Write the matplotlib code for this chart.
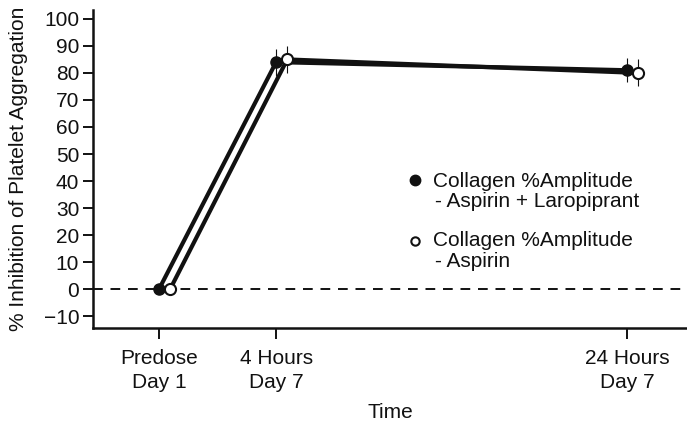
import matplotlib
matplotlib.use("Agg")
import matplotlib.pyplot as plt

plt.rcParams["font.family"] = ["Liberation Sans", "DejaVu Sans"]

TIME_POS = [0, 1, 4]
TIME_LABELS = ["Predose\nDay 1", "4 Hours\nDay 7", "24 Hours\nDay 7"]
COMBO_VALUES = [0, 84, 81]
COMBO_ERR = [0, 5, 4.5]
ASPIRIN_VALUES = [0, 85, 80]
ASPIRIN_ERR = [0, 5, 5]
OFFSET = 0.095
LEGEND_LINES = [("Collagen %Amplitude", "- Aspirin + Laropiprant"),
                ("Collagen %Amplitude", "- Aspirin")]

INK = "#111111"
FS = 15

fig = plt.figure(figsize=(6.87, 4.34), dpi=100)
ax = fig.add_axes([0.1354, 0.2442, 0.8646, 0.7328])

ax.axhline(0, color=INK, linestyle=(0, (5, 4)), linewidth=1.4, zorder=1)

ax.errorbar(TIME_POS, COMBO_VALUES, yerr=COMBO_ERR, color=INK,
            linewidth=3, marker="o", markersize=8, markerfacecolor=INK,
            markeredgecolor=INK, elinewidth=0.8, capsize=0, zorder=3)
ax.errorbar([t + OFFSET for t in TIME_POS], ASPIRIN_VALUES, yerr=ASPIRIN_ERR,
            color=INK, linewidth=3, marker="o", markersize=8,
            markerfacecolor="white", markeredgecolor=INK, markeredgewidth=1.5,
            elinewidth=0.8, capsize=0, zorder=3)

ax.set_xlim(-0.564, 4.51)
ax.set_ylim(-14.4, 103.3)
ax.set_yticks(range(-10, 101, 10))
ax.set_xticks(TIME_POS)
ax.set_xticklabels(TIME_LABELS, linespacing=1.35)

for side in ("top", "right"):
    ax.spines[side].set_visible(False)
for side in ("left", "bottom"):
    ax.spines[side].set_linewidth(1.8)
    ax.spines[side].set_color(INK)
ax.tick_params(axis="both", direction="out", length=7, width=1.4,
               labelsize=FS, colors=INK, pad=3)
ax.tick_params(axis="x", length=8, pad=7)

ax.set_ylabel("% Inhibition of Platelet Aggregation", fontsize=FS,
              color=INK, labelpad=11)
ax.set_xlabel("Time", fontsize=FS, color=INK, labelpad=8)

# legend drawn by hand: marker sits level with the first text line
text_x, mark_x = 0.5724, 0.5421
entries = [
    (0.4434, 0.0629, 0.4654, dict(markersize=7.5, markerfacecolor=INK)),
    (0.2579, 0.0661, 0.2736, dict(markersize=6, markerfacecolor="white",
                                  markeredgewidth=1.5)),
]
for (line1, line2), (y1, gap, ym, style) in zip(LEGEND_LINES, entries):
    ax.text(text_x, y1, line1, transform=ax.transAxes, fontsize=FS,
            color=INK, va="baseline")
    ax.text(text_x + 0.003, y1 - gap, line2, transform=ax.transAxes,
            fontsize=FS, color=INK, va="baseline")
    ax.plot([mark_x], [ym], transform=ax.transAxes, marker="o",
            linestyle="none", markeredgecolor=INK, clip_on=False, **style)

fig.savefig("out.png", dpi=100)
